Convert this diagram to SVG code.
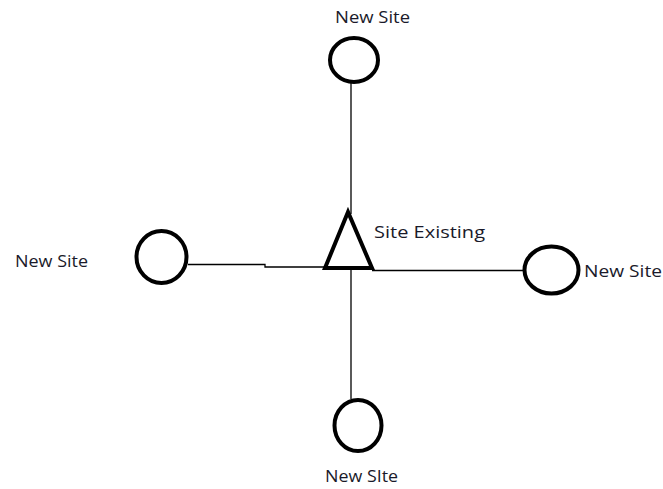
<svg xmlns="http://www.w3.org/2000/svg" width="663" height="489" viewBox="0 0 663 489">
<style>
.node{fill:none;stroke:#000;stroke-width:4}
.conn{fill:none;stroke:#000;stroke-width:1.3}
text{font-family:"Open Sans","Liberation Sans",Arial,sans-serif;font-size:15.5px;fill:#1a1a2a}
</style>
<rect width="663" height="489" fill="#fff"/>
<g id="connectors">
<line class="conn" x1="351" y1="83" x2="351" y2="214"/>
<polyline class="conn" points="188,264.5 265,264.5 265,267 325,267"/>
<line class="conn" x1="372" y1="270.5" x2="524" y2="270.5"/>
<line class="conn" x1="351" y1="270" x2="351" y2="399"/>
</g>
<g id="site-existing">
<polygon class="node" points="348,212 325,268 372,268" stroke-linejoin="miter"/>
<text x="374" y="238" textLength="111" lengthAdjust="spacingAndGlyphs">Site Existing</text>
</g>
<g id="new-site-top">
<ellipse class="node" cx="354" cy="60" rx="24" ry="22"/>
<text x="335" y="23" textLength="75" lengthAdjust="spacingAndGlyphs">New Site</text>
</g>
<g id="new-site-left">
<ellipse class="node" cx="161.5" cy="257" rx="25" ry="26"/>
<text x="15" y="267" textLength="73" lengthAdjust="spacingAndGlyphs">New Site</text>
</g>
<g id="new-site-right">
<ellipse class="node" cx="551.5" cy="270" rx="27" ry="23.5"/>
<text x="584" y="277" textLength="78" lengthAdjust="spacingAndGlyphs">New Site</text>
</g>
<g id="new-site-bottom">
<ellipse class="node" cx="358" cy="425.5" rx="23.5" ry="25.5"/>
<text x="325" y="482" textLength="73" lengthAdjust="spacingAndGlyphs">New SIte</text>
</g>
</svg>
